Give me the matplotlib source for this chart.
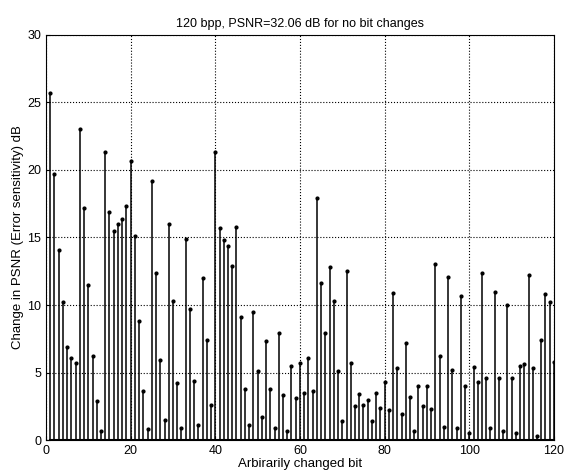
import matplotlib.pyplot as plt
import numpy as np

plt.rcParams['font.family'] = ['Liberation Sans', 'DejaVu Sans']

# bit index (1..120) and change in PSNR
bits = np.arange(1, 121)
psnr_change = [
    25.7, 19.7, 14.1, 10.2, 6.9, 6.1, 5.7, 23.0, 17.2, 11.5,
    6.2, 2.9, 0.7, 21.3, 16.9, 15.5, 16.0, 16.4, 17.3, 20.7,
    15.1, 8.8, 3.6, 0.8, 19.2, 12.4, 5.9, 1.5, 16.0, 10.3,
    4.2, 0.9, 14.9, 9.7, 4.4, 1.1, 12.0, 7.4, 2.6, 21.3,
    15.7, 14.8, 14.4, 12.9, 15.8, 9.1, 3.8, 1.1, 9.5, 5.1,
    1.7, 7.3, 3.8, 0.9, 7.9, 3.3, 0.7, 5.5, 3.1, 5.7,
    3.5, 6.1, 3.6, 17.9, 11.6, 7.9, 12.8, 10.3, 5.1, 1.4,
    12.5, 5.7, 2.5, 3.4, 2.6, 3.0, 1.4, 3.5, 2.4, 4.3,
    2.2, 10.9, 5.3, 1.9, 7.2, 3.2, 0.7, 4.0, 2.5, 4.0,
    2.3, 13.0, 6.2, 1.0, 12.1, 5.2, 0.9, 10.7, 4.0, 0.5,
    5.4, 4.3, 12.4, 4.6, 0.9, 11.0, 4.6, 0.7, 10.0, 4.6,
    0.5, 5.5, 5.6, 12.2, 5.3, 0.3, 7.4, 10.8, 10.2, 5.8,
]

fig = plt.figure(figsize=(5.65, 4.74), dpi=100)
ax = fig.add_axes([0.0814, 0.0717, 0.899, 0.8545])

markerline, stemlines, baseline = ax.stem(bits, psnr_change, linefmt='k-',
                                          markerfmt='k.', basefmt='k-')
markerline.set_markersize(4)
stemlines.set_linewidth(1.1)

ax.set_xlim(0, 120)
ax.set_ylim(0, 30)
ax.set_xticks(np.arange(0, 121, 20))
ax.set_yticks(np.arange(0, 31, 5))
ax.grid(True, linestyle=':', color='k', linewidth=0.8)
ax.tick_params(direction='in', labelsize=9, length=3)

ax.set_title('120 bpp, PSNR=32.06 dB for no bit changes', fontsize=9)
ax.set_xlabel('Arbirarily changed bit', fontsize=9.5, labelpad=1)
ax.set_ylabel('Change in PSNR (Error sensitivity) dB', fontsize=9.5, labelpad=2)

fig.savefig('out.png', dpi=100)
